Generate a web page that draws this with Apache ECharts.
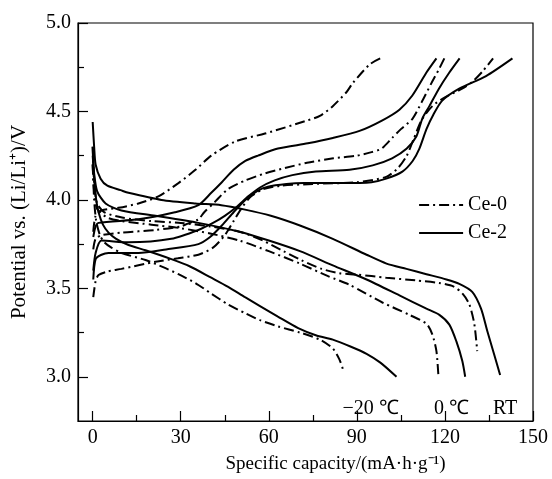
<!DOCTYPE html>
<html><head><meta charset="utf-8">
<script src="https://cdn.jsdelivr.net/npm/echarts@6/dist/echarts.min.js"></script>
<style>html,body{margin:0;padding:0;background:#fff}#c{width:552px;height:479px}</style>
</head><body><div id="c"></div>
<script>
// ---- data (x: specific capacity mA·h/g, y: potential V) ----
const xMajorTicks = [0, 30, 60, 90, 120, 150];
const xMinorTicks = [15, 45, 75, 105, 135];
const yMajorTicks = [3.0, 3.5, 4.0, 4.5, 5.0];
const yMinorTicks = [3.25, 3.75, 4.25, 4.75];
const tempLabels = [['−20 ℃', 94.7, 2.82], ['0 ℃', 122.2, 2.82], ['RT', 140.5, 2.82]];

// charge curves
const ce0_m20_charge = [[0.2,3.82],[1,3.91],[3,3.94],[8.8,3.955],[15.6,3.98],[22.4,4.02],[29.2,4.095],[35,4.17],[40.4,4.25],[48.5,4.33],[58.7,4.375],[73.3,4.45],[77.4,4.475],[81.8,4.53],[86.5,4.61],[88.6,4.66],[94.3,4.765],[98,4.8]];
const ce2_m20_charge = [[0.2,3.79],[1,3.85],[2,3.87],[15.6,3.89],[28,3.93],[36,3.97],[40.4,4.04],[44,4.10],[48,4.17],[52,4.22],[56.3,4.25],[63.1,4.29],[73.3,4.32],[81.8,4.35],[90.9,4.39],[98.7,4.45],[104.5,4.51],[108.9,4.59],[113.7,4.72],[117.1,4.80]];
const ce0_0_charge = [[0.2,3.72],[1,3.78],[3,3.80],[9.8,3.815],[21.4,3.83],[30,3.85],[33,3.87],[36,3.89],[38,3.93],[41.7,3.99],[46,4.06],[52,4.11],[58.7,4.15],[65.5,4.18],[73,4.21],[82,4.235],[90,4.25],[95,4.27],[98.4,4.29],[102,4.35],[105,4.40],[109,4.46],[112,4.55],[115.4,4.66],[118,4.74],[119.8,4.80]];
const ce2_0_charge = [[0.2,3.60],[1,3.70],[3,3.77],[12.2,3.76],[26.8,3.78],[36,3.83],[41,3.87],[45,3.91],[49,3.96],[53,4.02],[57,4.07],[62,4.11],[68,4.14],[76,4.16],[87.5,4.17],[95.4,4.195],[102,4.235],[107,4.29],[110.3,4.36],[112.3,4.46],[114.7,4.53],[118,4.63],[121.5,4.72],[125,4.80]];
const ce0_RT_charge = [[0.2,3.45],[1,3.54],[2,3.575],[5,3.595],[9.8,3.61],[21.4,3.65],[29,3.67],[36,3.69],[41,3.73],[45,3.80],[48,3.88],[51,3.96],[54,4.02],[58,4.06],[64,4.08],[75,4.09],[90,4.10],[100,4.13],[104,4.18],[107,4.25],[109.5,4.35],[112,4.45],[115.7,4.53],[120,4.58],[126,4.63],[129.5,4.67],[133,4.73],[136.4,4.80]];
const ce2_RT_charge = [[0.2,3.55],[1,3.665],[3,3.69],[5.4,3.70],[15.6,3.70],[25,3.72],[36,3.75],[40,3.79],[44,3.855],[48,3.93],[52,4.0],[56,4.05],[59.7,4.075],[66,4.09],[72,4.095],[85,4.095],[95,4.10],[100,4.12],[105.5,4.16],[109,4.22],[111.3,4.29],[113.7,4.40],[116,4.48],[119,4.56],[125,4.63],[134,4.70],[143,4.80]];

// discharge curves
const ce0_m20_discharge = [[0,4.2],[0.5,4.0],[1.2,3.88],[2.5,3.80],[4,3.76],[6.4,3.73],[9.8,3.70],[18,3.66],[24,3.62],[29.2,3.58],[35,3.53],[40.4,3.47],[46,3.41],[51.9,3.36],[57,3.32],[63.1,3.285],[70.6,3.25],[77.4,3.21],[81.8,3.16],[84,3.10],[85.2,3.045]];
const ce2_m20_discharge = [[0,4.3],[0.5,4.12],[1.2,4.0],[2,3.93],[3.5,3.86],[5.4,3.815],[8,3.78],[12.2,3.745],[18,3.715],[26.8,3.665],[33,3.625],[40.4,3.56],[46,3.51],[51.9,3.45],[57,3.40],[63.1,3.34],[70,3.275],[76,3.235],[81.8,3.21],[88,3.17],[93.3,3.13],[98,3.08],[103.5,3.0]];
const ce0_0_discharge = [[0,4.2],[0.5,4.05],[1.5,3.95],[5,3.90],[10,3.88],[20,3.86],[30,3.84],[40,3.81],[50,3.77],[60,3.71],[70.6,3.64],[80,3.57],[87.5,3.52],[98.7,3.42],[107.9,3.35],[113.7,3.30],[115.7,3.24],[117.1,3.145],[117.8,3.0]];
const ce2_0_discharge = [[0,4.25],[0.5,4.15],[1.5,4.05],[4.4,3.98],[9.8,3.94],[21.4,3.91],[36,3.87],[50,3.82],[60,3.77],[70.6,3.71],[81.8,3.63],[93.3,3.55],[104.5,3.46],[113.7,3.385],[118.1,3.35],[121.5,3.295],[123.9,3.2],[125.9,3.09],[126.9,3.0]];
const ce0_RT_discharge = [[0,4.30],[0.5,4.1],[1.5,3.98],[4,3.93],[10,3.90],[20,3.88],[30,3.87],[40,3.85],[50,3.82],[58,3.77],[65,3.71],[71,3.66],[78,3.61],[84,3.585],[90,3.578],[100,3.56],[110,3.545],[118,3.53],[123,3.51],[126,3.47],[128.3,3.41],[130,3.30],[131,3.145]];
const ce2_RT_discharge = [[0,4.44],[0.5,4.3],[1,4.2],[2.7,4.12],[5,4.08],[9.5,4.055],[12.2,4.04],[23.4,4.0],[35,3.98],[43.8,3.97],[51.9,3.945],[60.7,3.91],[70.6,3.855],[81.8,3.78],[93.3,3.69],[100.1,3.64],[106.9,3.61],[113.7,3.58],[120.5,3.55],[124.9,3.525],[129.3,3.48],[132.3,3.385],[134.4,3.26],[136.7,3.13],[138.8,3.01]];

const ce0Curves = [ce0_m20_charge, ce0_0_charge, ce0_RT_charge, ce0_m20_discharge, ce0_0_discharge, ce0_RT_discharge];
const ce2Curves = [ce2_m20_charge, ce2_0_charge, ce2_RT_charge, ce2_m20_discharge, ce2_0_discharge, ce2_RT_discharge];

// ---- chart ----
const FONT = '"Liberation Serif", "Times New Roman", serif';
const dashDot = [10, 4, 2, 4];
function mk(name, data, dashed) {
  return {
    name, type: 'line', data, xAxisIndex: 0, yAxisIndex: 0,
    showSymbol: false, symbol: 'none', smooth: 0.25, silent: true, animation: false,
    lineStyle: { color: '#000', width: 2, type: dashed ? dashDot : 'solid' },
    itemStyle: { color: '#000' }
  };
}
const series = [];
ce0Curves.forEach(d => series.push(mk('Ce-0', d, true)));
ce2Curves.forEach(d => series.push(mk('Ce-2', d, false)));

const chart = echarts.init(document.getElementById('c'), null, { renderer: 'canvas' });
const tickText = { color: '#000', fontFamily: FONT, fontSize: 20 };
const nameText = { color: '#000', fontFamily: FONT, fontSize: 19 };
chart.setOption({
  animation: false,
  backgroundColor: '#fff',
  grid: { left: 78, top: 23, right: 19, bottom: 53, show: true, borderColor: '#000', borderWidth: 1.2, backgroundColor: 'transparent' },
  legend: {
    data: [{ name: 'Ce-0', itemStyle: { opacity: 0 } }, { name: 'Ce-2', itemStyle: { opacity: 0 } }],
    orient: 'vertical', left: 413, top: 190, itemWidth: 44, itemHeight: 20, itemGap: 8,
    textStyle: { color: '#000', fontFamily: FONT, fontSize: 20 }, selectedMode: false,
    itemStyle: { opacity: 0 },
    lineStyle: { width: 2.2 }
  },
  xAxis: [
    { type: 'value', min: -5, max: 150, position: 'bottom',
      axisLine: { onZero: false, lineStyle: { color: '#000', width: 1.2 } },
      axisTick: { inside: true, length: 10, customValues: xMajorTicks, lineStyle: { color: '#000', width: 1.2 } },
      axisLabel: { customValues: xMajorTicks, margin: 7, ...tickText },
      splitLine: { show: false },
      name: 'Specific capacity/(mA·h·g⁻¹)', nameLocation: 'middle', nameGap: 34,
      nameTextStyle: { ...nameText, padding: [0, 0, 0, 60] } },
    { type: 'value', min: -5, max: 150, position: 'bottom', gridIndex: 0,
      axisLine: { show: false, onZero: false },
      axisTick: { inside: true, length: 6, customValues: xMinorTicks, lineStyle: { color: '#000', width: 1.2 } },
      axisLabel: { show: false }, splitLine: { show: false } }
  ],
  yAxis: [
    { type: 'value', min: 2.75, max: 5.0, position: 'left',
      axisLine: { show: true, onZero: false, lineStyle: { color: '#000', width: 1.2 } },
      axisTick: { show: true, inside: true, length: 10, customValues: yMajorTicks, lineStyle: { color: '#000', width: 1.2 } },
      axisLabel: { customValues: yMajorTicks, margin: 7, formatter: v => v.toFixed(1), ...tickText },
      splitLine: { show: false },
      name: 'Potential vs. (Li/Li⁺)/V', nameLocation: 'middle', nameGap: 48, nameRotate: 90,
      nameTextStyle: { ...nameText, fontSize: 21 } },
    { type: 'value', min: 2.75, max: 5.0, position: 'left', gridIndex: 0,
      axisLine: { show: false, onZero: false },
      axisTick: { show: true, inside: true, length: 6, customValues: yMinorTicks, lineStyle: { color: '#000', width: 1.2 } },
      axisLabel: { show: false }, splitLine: { show: false } }
  ],
  series
});

const graphics = tempLabels.map(([t, x, y]) => {
  const p = chart.convertToPixel({ xAxisIndex: 0, yAxisIndex: 0 }, [x, y]);
  return { type: 'text', x: p[0], y: p[1], style: { text: t, fill: '#000', font: '20px ' + FONT, textAlign: 'center', textVerticalAlign: 'middle' } };
});
chart.setOption({ graphic: graphics });
</script></body></html>
